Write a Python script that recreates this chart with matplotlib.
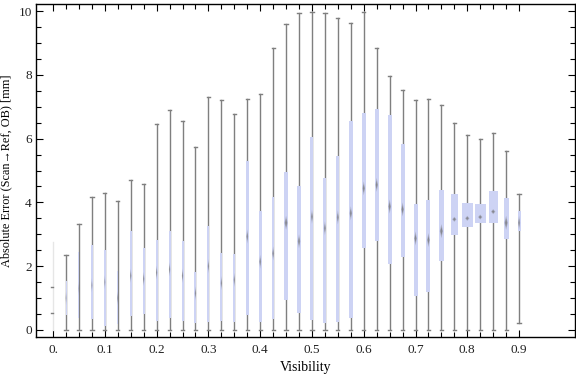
import matplotlib
matplotlib.use("Agg")
import matplotlib.pyplot as plt
from matplotlib.patches import Rectangle, Polygon
import numpy as np

# ---- data ----
visibility = [round(0.025 * i, 3) for i in range(37)]
whisker_low = [0.0] * 36 + [0.21]
q1 = [0.52, 0.47, 0.39, 0.34, 0.13, 0.19, 0.45, 0.50, 0.29, 0.37,
      0.29, 0.23, 0.26, 0.29, 0.26, 0.47, 0.26, 0.34, 0.95, 0.54,
      0.31, 0.21, 0.26, 0.39, 2.58, 2.80, 2.08, 2.29, 1.08, 1.19,
      2.17, 2.99, 3.24, 3.36, 3.36, 2.86, 3.11]
median = [0.90, 1.00, 1.30, 1.40, 1.50, 1.00, 1.70, 1.60, 1.80, 1.90,
          1.70, 1.15, 2.00, 1.47, 1.57, 2.93, 2.14, 2.40, 3.36, 2.78,
          3.55, 3.19, 3.53, 3.66, 4.44, 4.55, 3.87, 3.78, 2.87, 2.82,
          3.10, 3.47, 3.50, 3.54, 3.71, 3.36, 3.36]
q3 = [1.36, 1.54, 2.45, 2.66, 2.51, 1.85, 3.11, 2.57, 2.82, 3.10,
      2.80, 1.81, 3.26, 2.41, 2.38, 5.29, 3.72, 4.18, 4.94, 4.50,
      6.04, 4.76, 5.45, 6.55, 6.79, 6.93, 6.74, 5.83, 3.95, 4.08,
      4.38, 4.26, 3.98, 3.95, 4.35, 4.13, 3.73]
whisker_high = [2.75, 2.34, 3.32, 4.17, 4.30, 4.04, 4.70, 4.58, 6.45, 6.90,
                6.55, 5.74, 7.30, 7.21, 6.76, 7.23, 7.39, 8.85, 9.60, 9.93,
                9.96, 9.93, 9.77, 9.61, 9.96, 8.83, 7.95, 7.51, 7.21, 7.23,
                7.04, 6.50, 6.10, 5.98, 6.17, 5.60, 4.26]
# box widths (in visibility units)
box_width = [0.0, 0.002, 0.002, 0.0025, 0.0025, 0.0025, 0.0038, 0.0038, 0.0038, 0.0038,
             0.0038, 0.0038, 0.0038, 0.0038, 0.0038, 0.0052, 0.0052, 0.0052, 0.009, 0.0071,
             0.0058, 0.0058, 0.0058, 0.0071, 0.0071, 0.0071, 0.0077, 0.0077, 0.0077, 0.0077,
             0.009, 0.0135, 0.0212, 0.0212, 0.0174, 0.0097, 0.0058]
x_tick_labels = ["0.", "0.1", "0.2", "0.3", "0.4", "0.5", "0.6", "0.7", "0.8", "0.9"]
y_tick_labels = ["0", "2", "4", "6", "8", "10"]

serif = ["Liberation Serif", "DejaVu Serif"]
plt.rcParams["font.family"] = serif

fig = plt.figure(figsize=(5.76, 3.77), dpi=100)
ax = fig.add_axes([36 / 576, 1 - 337 / 377, 539 / 576, 333 / 377])

whisk_col = "#7f7f7f"
box_col = "#cdd3f4"
px = 1.0 / 518  # approx one pixel in x data units
cap = 1.6 * px

for i, x in enumerate(visibility):
    w = box_width[i]
    lo, hi = whisker_low[i], whisker_high[i]
    if w == 0:
        ax.plot([x, x], [lo, hi], color="#e6e6e6", lw=1, zorder=2)
        for v in (q1[i], q3[i]):
            ax.plot([x - 2 * px, x], [v, v], color=whisk_col, lw=1, zorder=3)
        continue
    ax.plot([x, x], [lo, hi], color=whisk_col, lw=1, zorder=2)
    for v in (lo, hi):
        ax.plot([x - cap, x + cap], [v, v], color=whisk_col, lw=1, zorder=2)
    ax.add_patch(Rectangle((x - w / 2, q1[i]), w, q3[i] - q1[i],
                           facecolor=box_col, edgecolor="none", zorder=3))
    # blurred diamond median marker
    hw = min(w * 0.35, 2.2 * px)
    hh = 0.22 if w < 0.011 else 0.08
    for scale, a in ((1.0, 0.35), (0.6, 0.6)):
        ax.add_patch(Polygon([[x - hw * scale, median[i]], [x, median[i] + hh * scale],
                              [x + hw * scale, median[i]], [x, median[i] - hh * scale]],
                             closed=True, facecolor="#6e6e6e", edgecolor="none",
                             alpha=a, zorder=4))

ax.set_xlim(-0.033, 1.008)
ax.set_ylim(-0.22, 10.22)

ax.set_xticks(visibility, minor=True)
ax.set_xticks([0.1 * k for k in range(10)])
ax.set_xticklabels(x_tick_labels)
ax.set_yticks(np.arange(0, 10.01, 0.5), minor=True)
ax.set_yticks([0, 2, 4, 6, 8, 10])
ax.set_yticklabels(y_tick_labels)

ax.tick_params(which="both", direction="in", top=True, right=True,
               labelsize=9.5, labelcolor="#222222", width=0.8)
ax.tick_params(axis="x", pad=5)
ax.tick_params(axis="y", pad=3)
ax.tick_params(which="major", length=5)
ax.tick_params(which="minor", length=3.5)
for s in ax.spines.values():
    s.set_linewidth(1.0)
    s.set_color("black")

ax.set_xlabel("Visibility", fontsize=10, labelpad=4)
ax.set_ylabel("Absolute Error (Scan\u2192Ref, OB) [mm]", fontsize=8.8)
ax.yaxis.set_label_coords(-0.044, 0.5)

fig.savefig("out.png", dpi=100)
